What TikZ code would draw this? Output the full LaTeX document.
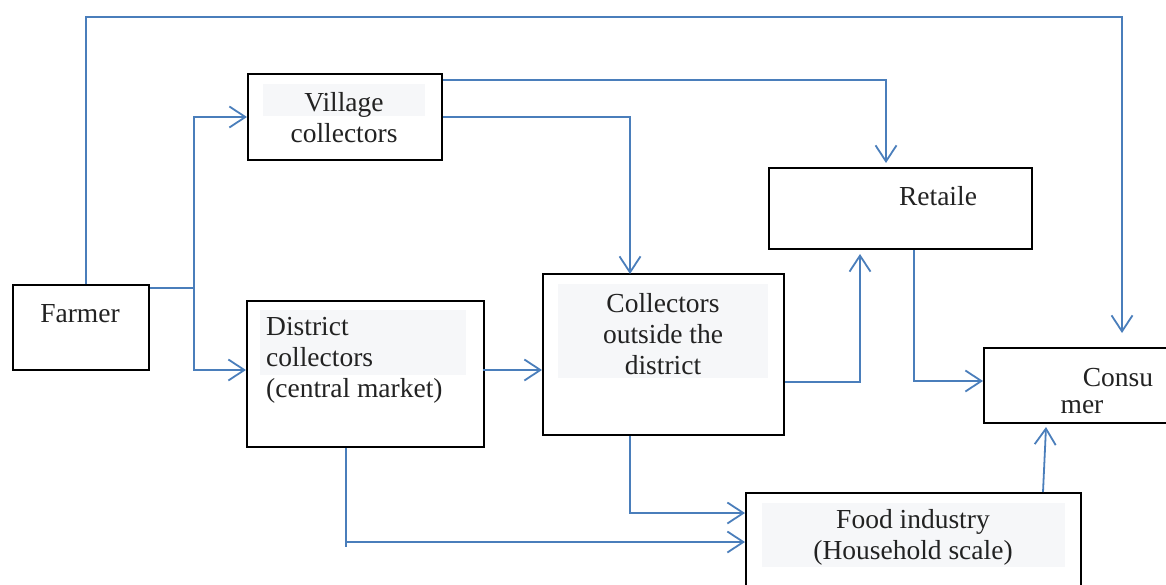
\documentclass[tikz,border=0pt]{standalone}
\usepackage{fontspec}
\setmainfont{Liberation Serif}
\usetikzlibrary{arrows.meta,calc}
\definecolor{ln}{HTML}{4A7EBB}
\definecolor{tbg}{HTML}{F6F7F9}
\definecolor{tx}{HTML}{222222}
\begin{document}
\begin{tikzpicture}[x=1pt,y=-1pt,
  box/.style={draw=black,line width=2pt,inner sep=0pt,anchor=north west},
  bg/.style={fill=tbg,inner sep=0pt,anchor=north west},
  txt/.style={text=tx,inner sep=0pt,font=\fontsize{27.5}{31}\selectfont},
  conn/.style={draw=ln,line width=1.8pt},
  arr/.style={conn,-{Straight Barb[length=16pt,width=21pt,line width=1.8pt]}}]
\useasboundingbox (0,0) rectangle (1166,585);
\clip (0,0) rectangle (1166,585);
\fill[white] (0,0) rectangle (1166,585);
% boxes
\node[box,minimum width=136,minimum height=85] (farmer) at (12,284) {};
\node[box,minimum width=194,minimum height=86] (village) at (247,73) {};
\node[box,minimum width=237,minimum height=146] (district) at (246,300) {};
\node[box,minimum width=241,minimum height=161] (coll) at (542,273) {};
\node[box,minimum width=263,minimum height=81] (retail) at (768,167) {};
\node[box,minimum width=200,minimum height=75] (consumer) at (983,347) {};
\node[box,minimum width=335,minimum height=120] (food) at (745,492) {};
% text backgrounds
\node[bg,minimum width=162,minimum height=32] (villagebg) at (263,84) {};
\node[bg,minimum width=206,minimum height=65] (districtbg) at (260,310) {};
\node[bg,minimum width=210,minimum height=94] (collbg) at (558,284) {};
\node[bg,minimum width=303,minimum height=64] (foodbg) at (762,503) {};
% texts
\node[txt] (farmerT) at (80,314) {Farmer};
\node[txt,align=center] (villageT) at (344,118) {Village\\collectors};
\node[txt,align=left,anchor=west] (districtT) at (266,360) {District\\collectors\\(central market)};
\node[txt,align=center] (collT) at (663,334) {Collectors\\outside the\\district};
\node[txt] (retailT) at (938,196) {Retaile};
\node[txt] (consT1) at (1118,378) {Consu};
\node[txt] (consT2) at (1082,407) {mer};
\node[txt,align=center] (foodT) at (913,537) {Food industry\\(Household scale)};
% connectors
\coordinate (split) at ($(farmer.north east)+(44,4)$);
\draw[conn] ($(farmer.north east)+(0,4)$) -- (split);
\draw[arr] (split) |- (village.west);
\draw[arr] (split) |- ($(district.west)+(0,-4)$);
\draw[arr] ($(farmer.north west)+(74,0)$) -- ++(0,-267) -| ($(consumer.north west)+(139,-14)$);
\draw[arr] ($(village.north east)+(0,7)$) -| ($(retail.north west)+(118,-4)$);
\draw[arr] (village.east) -| ($(coll.north west)+(88,1)$);
\draw[arr] ($(district.west)+(237,-4)$) -- ($(coll.west)+(0,15.5)$);
\draw[arr] ($(coll.east)+(0,27.5)$) -| ($(retail.south west)+(92,4)$);
\draw[arr] ($(retail.south west)+(146,0)$) |- ($(consumer.west)+(0,-4.5)$);
\draw[arr] ($(coll.south west)+(88,0)$) |- ($(food.north west)+(0,21)$);
\coordinate (dfoot) at ($(district.south west)+(100,94)$);
\draw[conn] ($(district.south west)+(100,0)$) -- ++(0,99);
\draw[arr] (dfoot) -- (dfoot -| food.west);
\draw[arr] ($(food.north west)+(298,0)$) -- ($(consumer.south west)+(63,3)$);
\end{tikzpicture}
\end{document}
